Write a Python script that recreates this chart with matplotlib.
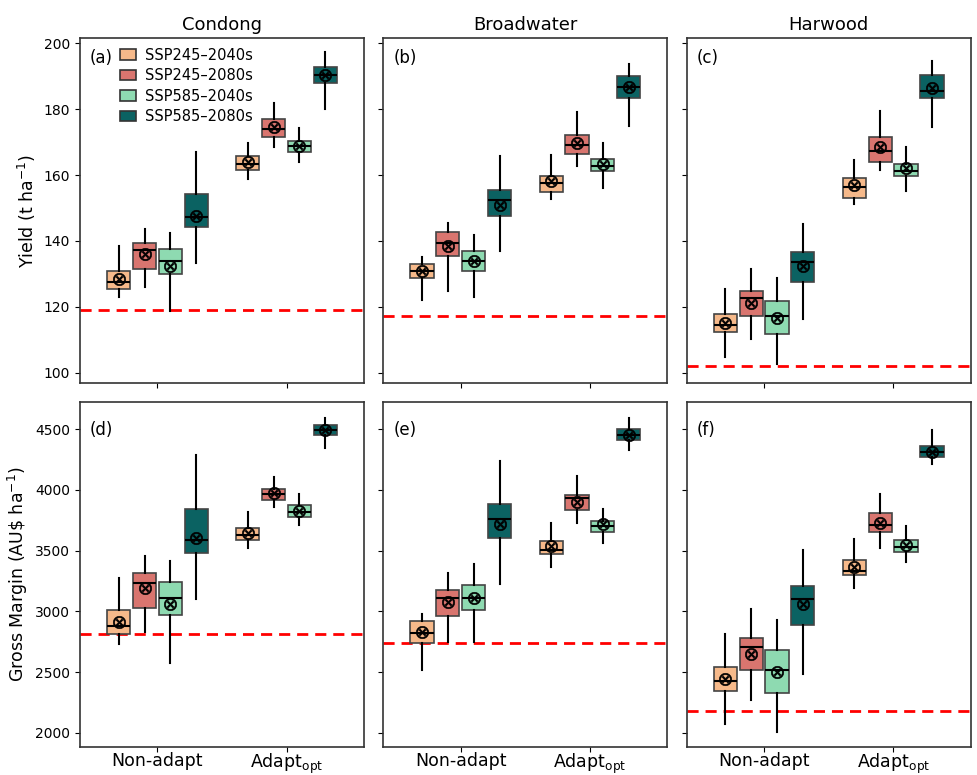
import matplotlib
matplotlib.use("Agg")
import matplotlib.pyplot as plt
from matplotlib.patches import Patch
import numpy as np

sites = ["Condong", "Broadwater", "Harwood"]
groups = ["Non-adapt", "Adapt$_{\\mathregular{opt}}$"]
scenarios = ["SSP245\u20132040s", "SSP245\u20132080s", "SSP585\u20132040s", "SSP585\u20132080s"]
colors = ["#F6B98A", "#D9756F", "#8EDAB1", "#0B6262"]

# each row: whislo, q1, median, q3, whishi, mean
# order: Non-adapt (4 scenarios) then Adapt_opt (4 scenarios)
yield_condong = [
    [122.9, 125.4, 127.4, 131.0, 138.4, 128.4],
    [126.0, 131.6, 137.3, 139.5, 143.5, 136.1],
    [118.9, 129.9, 133.8, 137.5, 142.3, 132.5],
    [133.4, 144.1, 147.3, 154.2, 166.9, 147.6],
    [158.8, 161.5, 163.5, 165.9, 169.7, 164.0],
    [168.6, 171.4, 174.0, 177.0, 182.0, 174.5],
    [164.0, 167.0, 168.7, 170.2, 174.3, 168.8],
    [180.1, 187.9, 190.4, 192.9, 197.2, 190.4],
]
yield_broadwater = [
    [122.2, 128.7, 130.8, 133.0, 135.2, 131.0],
    [124.9, 135.4, 139.4, 142.7, 145.5, 138.5],
    [123.1, 130.9, 133.8, 136.9, 141.7, 133.8],
    [136.9, 147.7, 152.4, 155.5, 165.7, 151.0],
    [152.6, 154.9, 157.6, 159.7, 166.2, 158.1],
    [162.7, 166.3, 169.1, 172.2, 179.2, 169.7],
    [156.0, 161.2, 162.7, 164.8, 169.6, 163.3],
    [174.9, 183.4, 186.6, 190.2, 193.7, 186.7],
]
yield_harwood = [
    [104.8, 112.4, 114.6, 117.9, 125.5, 115.2],
    [110.2, 117.1, 122.6, 124.8, 131.4, 121.1],
    [102.7, 111.8, 117.3, 121.7, 128.8, 116.7],
    [116.2, 127.4, 133.6, 136.7, 145.1, 132.3],
    [151.1, 153.0, 156.3, 159.2, 164.6, 156.9],
    [161.5, 164.1, 167.4, 171.4, 179.5, 168.4],
    [155.1, 159.6, 161.3, 163.3, 168.5, 162.1],
    [174.6, 183.3, 185.5, 190.5, 194.6, 186.3],
]
gm_condong = [
    [2729, 2816, 2882, 3009, 3273, 2915],
    [2833, 3031, 3231, 3314, 3456, 3190],
    [2578, 2968, 3113, 3242, 3415, 3064],
    [3100, 3481, 3591, 3843, 4288, 3602],
    [3525, 3586, 3629, 3690, 3816, 3646],
    [3863, 3915, 3965, 4011, 4105, 3978],
    [3712, 3778, 3816, 3874, 3965, 3825],
    [4343, 4453, 4492, 4533, 4596, 4492],
]
gm_broadwater = [
    [2515, 2737, 2822, 2921, 2979, 2828],
    [2745, 2965, 3108, 3179, 3314, 3075],
    [2745, 3009, 3110, 3215, 3388, 3110],
    [3223, 3605, 3764, 3885, 4242, 3720],
    [3368, 3470, 3506, 3583, 3726, 3539],
    [3731, 3835, 3931, 3959, 4118, 3904],
    [3566, 3652, 3703, 3747, 3843, 3717],
    [4332, 4414, 4456, 4502, 4596, 4456],
]
gm_harwood = [
    [2075, 2347, 2427, 2540, 2811, 2443],
    [2268, 2515, 2709, 2783, 3020, 2649],
    [2009, 2325, 2520, 2680, 2929, 2498],
    [2482, 2885, 3105, 3212, 3506, 3059],
    [3190, 3300, 3335, 3423, 3594, 3368],
    [3520, 3652, 3712, 3808, 3965, 3731],
    [3409, 3487, 3528, 3588, 3706, 3547],
    [4212, 4272, 4310, 4362, 4494, 4316],
]
yield_baseline = [119.1, 117.1, 102.0]
gm_baseline = [2816, 2740, 2182]

panel_data = [[yield_condong, yield_broadwater, yield_harwood],
              [gm_condong, gm_broadwater, gm_harwood]]
baselines = [yield_baseline, gm_baseline]
letters = [["(a)", "(b)", "(c)"], ["(d)", "(e)", "(f)"]]
ylabels = ["Yield (t ha$^{-1}$)", "Gross Margin (AU\\$ ha$^{-1}$)"]

offsets = [-0.3, -0.1, 0.1, 0.3]

fig, axes = plt.subplots(2, 3, figsize=(9.78, 7.75), dpi=100, sharex=True, sharey="row")
plt.subplots_adjust(left=0.0818, right=0.9925, top=0.9506, bottom=0.0365,
                    wspace=0.068, hspace=0.057)

for r in range(2):
    for c in range(3):
        ax = axes[r, c]
        rows = panel_data[r][c]
        for i, row in enumerate(rows):
            g = i // 4
            s = i % 4
            stats = [dict(whislo=row[0], q1=row[1], med=row[2], q3=row[3],
                          whishi=row[4], mean=row[5], fliers=[])]
            ax.bxp(stats, positions=[g + offsets[s]], widths=0.18,
                   patch_artist=True, showmeans=True, showcaps=False,
                   showfliers=False,
                   boxprops=dict(facecolor=colors[s], edgecolor="#444444",
                                 linewidth=1.2),
                   medianprops=dict(color="black", linewidth=1.5),
                   whiskerprops=dict(color="black", linewidth=1.5),
                   meanprops=dict(marker="$\\otimes$", markersize=9,
                                  markerfacecolor="black",
                                  markeredgecolor="black", markeredgewidth=0.4))
        ax.axhline(baselines[r][c], color="red", linestyle="--", linewidth=2,
                   dashes=(4, 2.5), zorder=1)
        if r == 0:
            ax.set_title(sites[c], fontsize=13, pad=6)
            ax.text(0.035, 0.943, letters[r][c], transform=ax.transAxes,
                    fontsize=12, va="center", ha="left")
        else:
            ax.text(0.035, 0.92, letters[r][c], transform=ax.transAxes,
                    fontsize=12, va="center", ha="left")
        for sp in ax.spines.values():
            sp.set_color("#333333")
            sp.set_linewidth(1.2)
        ax.tick_params(axis="y", labelsize=10)
        ax.tick_params(axis="x", labelsize=12.5, pad=0.3)
        if c == 0:
            ax.set_ylabel(ylabels[r], fontsize=12.5, labelpad=4)

axes[0, 0].set_ylim(97.0, 201.5)
axes[1, 0].set_ylim(1885, 4722)
axes[1, 0].set_yticks([2000, 2500, 3000, 3500, 4000, 4500])
axes[0, 0].set_yticks([100, 120, 140, 160, 180, 200])
axes[1, 0].set_xlim(-0.6, 1.6)
axes[1, 0].set_xticks([0, 1])
axes[1, 0].set_xticklabels(groups)

handles = [Patch(facecolor=col, edgecolor="#333333", linewidth=1.2) for col in colors]
axes[0, 0].legend(handles, scenarios, loc="upper left", bbox_to_anchor=(0.12, 0.99),
                  frameon=False, fontsize=10.5, handlelength=1.1, handleheight=0.75,
                  handletextpad=0.6, labelspacing=0.38, borderaxespad=0.0)

fig.savefig("out.png", dpi=100)
